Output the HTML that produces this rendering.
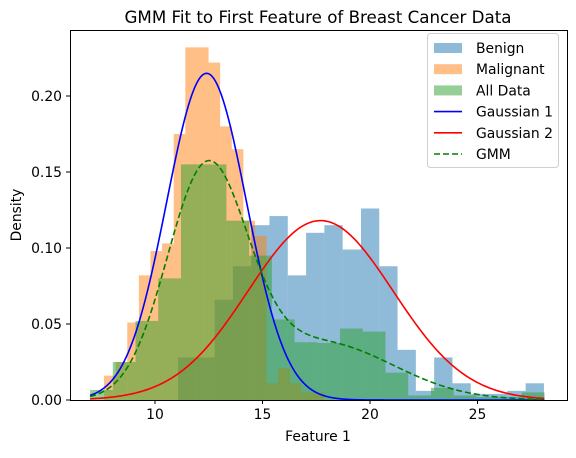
<!DOCTYPE html>
<html><head><meta charset="utf-8"><style>
body{margin:0;background:#fff;font-family:"Liberation Sans","DejaVu Sans",sans-serif}
svg text{font-family:"DejaVu Sans","Liberation Sans",sans-serif}
</style></head><body>
<svg id="c" width="576" height="453" xmlns="http://www.w3.org/2000/svg">
<rect width="576" height="453" fill="#fff"/>
<g id="plot"></g>
<rect x="70.5" y="30.5" width="497" height="370" fill="none" stroke="#000" stroke-width="1"/>
<g id="axes"></g>
<text x="318" y="23" text-anchor="middle" font-size="16.7">GMM Fit to First Feature of Breast Cancer Data</text>
<text x="318" y="441" text-anchor="middle" font-size="13.9">Feature 1</text>
<text x="21" y="215" text-anchor="middle" font-size="13.9" transform="rotate(-90 21 215)">Density</text>
<g id="legend"></g>
</svg>
<script>
const benignStart = 11.07, benignWidth = 0.851;
const benignValues = [0.028,0.028,0.066,0.088,0.115,0.121,0.082,0.110,0.115,0.099,0.126,0.088,0.033,0.006,0.028,0.011,0.004,0.004,0.006,0.011];
const malignantStart = 7.63, malignantWidth = 0.54;
const malignantValues = [0.016,0.025,0.051,0.082,0.098,0.103,0.175,0.232,0.232,0.222,0.180,0.165,0.118,0.108,0.011,0.021,0.011,0.005,0.005];
const allStart = 6.98, allWidth = 1.057;
const allValues = [0.0066,0.025,0.052,0.080,0.155,0.155,0.118,0.095,0.053,0.038,0.0375,0.047,0.045,0.018,0.003,0.008,0.003,0.002,0.002,0.005];
const gaussMeans = [12.4, 17.7];
const gaussSigmas = [1.856, 3.38];
const gaussWeights = [0.68, 0.32];
const xTicks = [10,15,20,25];
const yTicks = [0,0.05,0.10,0.15,0.20];
const yTickLabels = ["0.00","0.05","0.10","0.15","0.20"];
const xRange = [6.98, 28.11];

const NS="http://www.w3.org/2000/svg";
const X=v=>155+(v-10)*21.5;
const Y=v=>400-v*1520;
const plot=document.getElementById('plot'), axes=document.getElementById('axes'), legend=document.getElementById('legend');
function mk(tag,attrs,parent){const e=document.createElementNS(NS,tag);for(const k in attrs)e.setAttribute(k,attrs[k]);parent.appendChild(e);return e;}
function hist(start,width,vals,color,name){
  vals.forEach((v,i)=>{
    const x0=X(start+i*width),x1=X(start+(i+1)*width);
    const r=mk('rect',{x:x0,y:Y(v),width:x1-x0,height:Y(0)-Y(v),fill:color,'fill-opacity':0.5},plot);
    
    
  });
}
hist(benignStart,benignWidth,benignValues,'#1f77b4','benign');
hist(malignantStart,malignantWidth,malignantValues,'#ff7f0e','malignant');
hist(allStart,allWidth,allValues,'#2ca02c','all-data');
function pdf(x,m,s){return Math.exp(-0.5*((x-m)/s)**2)/(s*Math.sqrt(2*Math.PI));}
function curve(fn,color,dash,name){
  let d='';
  for(let i=0;i<=300;i++){const x=xRange[0]+(xRange[1]-xRange[0])*i/300;d+=(i?'L':'M')+X(x).toFixed(2)+','+Y(fn(x)).toFixed(2);}
  const p=mk('path',{d:d,fill:'none',stroke:color,'stroke-width':1.6},plot);
  if(dash)p.setAttribute('stroke-dasharray',dash);
  
  
}
curve(x=>pdf(x,gaussMeans[0],gaussSigmas[0]),'#0000ff',null,'gaussian-1-line');
curve(x=>pdf(x,gaussMeans[1],gaussSigmas[1]),'#ff0000',null,'gaussian-2-line');
curve(x=>gaussWeights[0]*pdf(x,gaussMeans[0],gaussSigmas[0])+gaussWeights[1]*pdf(x,gaussMeans[1],gaussSigmas[1]),'#008000','6,3','gmm-line');
xTicks.forEach(t=>{
  const l=mk('line',{x1:X(t),x2:X(t),y1:400,y2:404,stroke:'#000'},axes);
  
  
  const tx=mk('text',{x:X(t),y:419,'text-anchor':'middle','font-size':13.9},axes);tx.textContent=t;
  
  
});
yTicks.forEach((t,i)=>{
  const l=mk('line',{x1:66,x2:70,y1:Y(t),y2:Y(t),stroke:'#000'},axes);
  
  
  const tx=mk('text',{x:62,y:Y(t)+5,'text-anchor':'end','font-size':13.9},axes);tx.textContent=yTickLabels[i];
  
  
});
mk('rect',{x:427.5,y:33.5,width:131,height:134,rx:3,fill:'#fff','fill-opacity':0.8,stroke:'#d0d0d0'},legend);
const legItems=[['Benign','#1f77b4','patch'],['Malignant','#ff7f0e','patch'],['All Data','#2ca02c','patch'],['Gaussian 1','#0000ff','line'],['Gaussian 2','#ff0000','line'],['GMM','#008000','dash']];
legItems.forEach((it,i)=>{
  const y=48+i*21.2;
  if(it[2]==='patch'){const r=mk('rect',{x:434,y:y-5,width:28,height:10,fill:it[1],'fill-opacity':0.5},legend);
    
    }
  else{const l=mk('line',{x1:434,x2:462,y1:y,y2:y,stroke:it[1],'stroke-width':1.6},legend);
    if(it[2]==='dash')l.setAttribute('stroke-dasharray','6,3');
    
    }
  const t=mk('text',{x:476,y:y+5,'font-size':13.9},legend);t.textContent=it[0];
  
  
});
</script>
</body></html>
